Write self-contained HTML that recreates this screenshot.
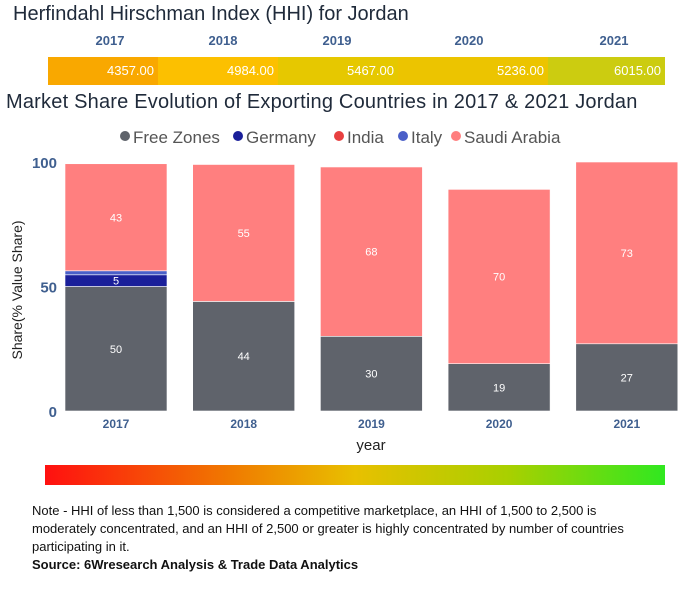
<!DOCTYPE html>
<html><head><meta charset="utf-8"><style>
body{margin:0;width:694px;height:600px;background:#fff;font-family:"Liberation Sans",sans-serif;position:relative;overflow:hidden}
.abs{position:absolute}
</style></head><body>
<div class="abs" style="left:13px;top:3px;font-size:20px;color:#1f2a3a">Herfindahl Hirschman Index (HHI) for Jordan</div>
<div id="hhi"></div>
<div class="abs" style="left:6px;top:91px;font-size:20px;color:#1f2a3a;letter-spacing:0.2px">Market Share Evolution of Exporting Countries in 2017 &amp; 2021 Jordan</div>
<svg id="chart" class="abs" style="left:0;top:0" width="694" height="600"></svg>
<div class="abs" style="left:45px;top:465px;width:620px;height:20px;background:linear-gradient(90deg,#ff1010,#f07a00 30%,#e8c000 50%,#a8d000 75%,#30e820)"></div>
<div class="abs" style="left:32px;top:502px;width:625px;font-size:13px;line-height:18px;color:#111">Note - HHI of less than 1,500 is considered a competitive marketplace, an HHI of 1,500 to 2,500 is moderately concentrated, and an HHI of 2,500 or greater is highly concentrated by number of countries participating in it.<br><b>Source: 6Wresearch Analysis &amp; Trade Data Analytics</b></div>
<script>
const years=["2017","2018","2019","2020","2021"];
const hhi=[4357,4984,5467,5236,6015];
const freeZones=[50,44,30,19,27];
const germany=[4.7,0,0,0,0];
const india=[0,0,0,0,0];
const italy=[1.6,0,0,0,0];
const saudi=[43,55,68,70,73];
const yTicks=[0,50,100];
const hhiColors=["#f9a800","#fcc000","#e6c800","#ecc400","#cccc10"];
const hx=[48,158,278,398,548,665];
const hl=[110,223,337,469,614];
const strip=document.getElementById('hhi');
years.forEach((y,i)=>{
 const lab=document.createElement('div');lab.className='abs';
 
 
 lab.style.cssText=`left:${hl[i]-30}px;width:60px;text-align:center;top:33px;font-size:13px;font-weight:bold;color:#3f5f8f`;
 lab.textContent=y;strip.appendChild(lab);
 const c=document.createElement('div');c.className='abs';
 
 
 c.style.cssText=`left:${hx[i]}px;width:${hx[i+1]-hx[i]}px;top:57px;height:28px;background:${hhiColors[i]};color:#fff;font-size:13px;text-align:right;line-height:28px;box-sizing:border-box;padding-right:4px`;
 c.textContent=hhi[i].toFixed(2);strip.appendChild(c);
});
const svg=document.getElementById('chart');const NS='http://www.w3.org/2000/svg';
const y0=411,y100=162;const yS=v=>y0-(y0-y100)*v/100;
const bx=i=>65+i*127.7,bw=102;
function mk(t,a,txt){const e=document.createElementNS(NS,t);for(const k in a)e.setAttribute(k,a[k]);if(txt!=null)e.textContent=txt;svg.appendChild(e);return e;}
const series=[["free-zones",freeZones,"#5f636b"],["germany",germany,"#1a1f9a"],["india",india,"#e84040"],["italy",italy,"#4a5fc8"],["saudi-arabia",saudi,"#ff7f7f"]];
years.forEach((y,i)=>{
 let acc=0;
 series.forEach(([n,arr,col])=>{
  const v=arr[i];if(!v)return;
  const r=mk('rect',{x:bx(i),y:yS(acc+v),width:bw,height:yS(acc)-yS(acc+v),fill:col,stroke:'#fff','stroke-width':0.6});
  
  
  if(v>=4){const t=mk('text',{x:bx(i)+bw/2,y:yS(acc+v/2)+4,'text-anchor':'middle','font-size':11,fill:'#fff','font-family':'Liberation Sans'},Math.round(v));
  
  }
  acc+=v;
 });
 const t=mk('text',{x:bx(i)+bw/2,y:428,'text-anchor':'middle','font-size':12,'font-weight':'bold',fill:'#3f5f8f','font-family':'Liberation Sans'},y);
 
 
});
yTicks.forEach(v=>{const t=mk('text',{x:57,y:yS(v)+6,'text-anchor':'end','font-size':15,'font-weight':'bold',fill:'#3f5f8f','font-family':'Liberation Sans'},v);
 
 });
const yt=mk('text',{x:0,y:0,transform:'translate(22,290) rotate(-90)','text-anchor':'middle','font-size':14,fill:'#222','font-family':'Liberation Sans'},'Share(% Value Share)');


const xt=mk('text',{x:371,y:450,'text-anchor':'middle','font-size':15,fill:'#222','font-family':'Liberation Sans'},'year');


const leg=[["Free Zones","#5f636b",120],["Germany","#1a1f9a",233],["India","#e84040",334],["Italy","#4a5fc8",398],["Saudi Arabia","#ff7f7f",451]];
leg.forEach(([n,c,x])=>{
 const g=document.createElementNS(NS,'g');svg.appendChild(g);
 
 
 const ci=document.createElementNS(NS,'circle');ci.setAttribute('cx',x+5);ci.setAttribute('cy',136);ci.setAttribute('r',5);ci.setAttribute('fill',c);g.appendChild(ci);
 const t=document.createElementNS(NS,'text');t.setAttribute('x',x+13);t.setAttribute('y',143);t.setAttribute('font-size',17);t.setAttribute('fill','#555');t.setAttribute('font-family','Liberation Sans');t.textContent=n;g.appendChild(t);
});
</script>
</body></html>
